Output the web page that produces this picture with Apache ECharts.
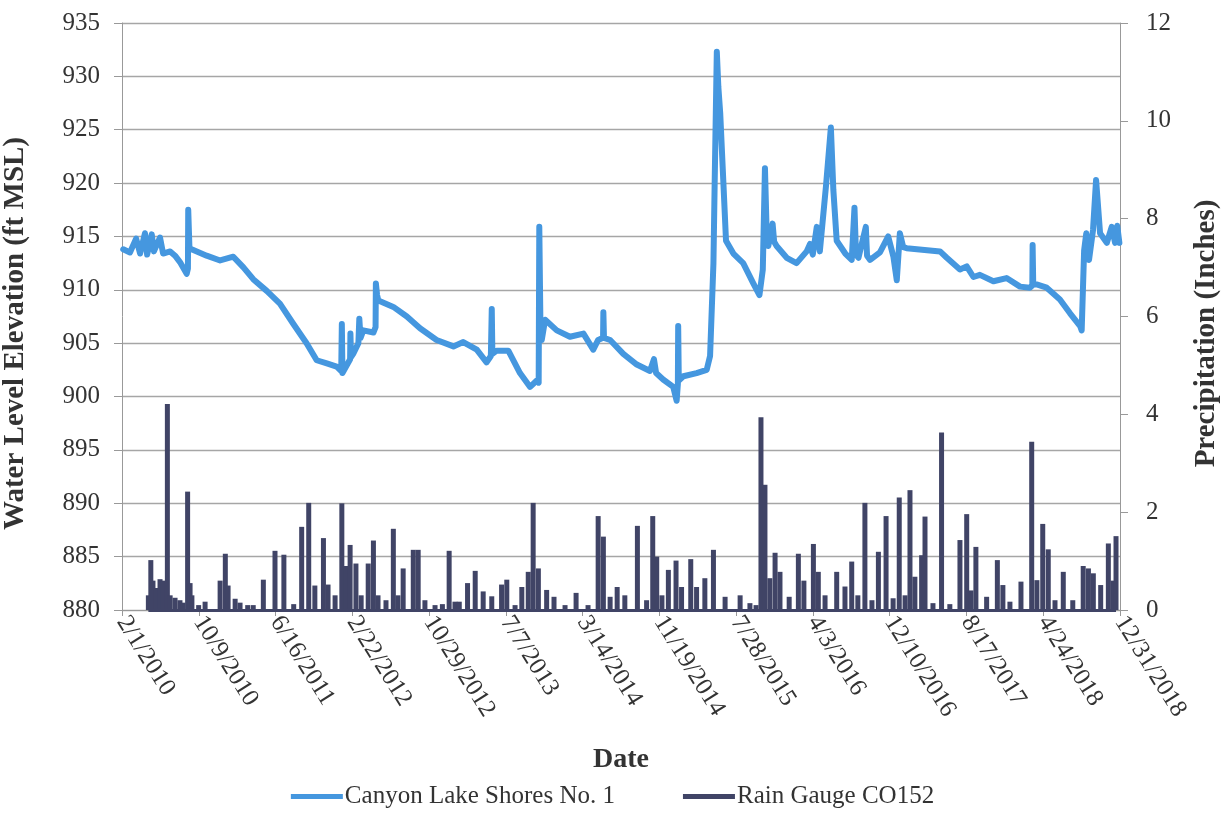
<!DOCTYPE html>
<html>
<head>
<meta charset="utf-8">
<script src="https://cdn.jsdelivr.net/npm/echarts@6/dist/echarts.min.js"></script>
<style>
html,body{margin:0;padding:0;background:#fff;}
#chart{width:1225px;height:814px;}
</style>
</head>
<body>
<div id="chart"></div>
<script>
// X values are days elapsed since 2/1/2010 (axis spans 2/1/2010 .. 12/31/2018)
const axisSpanDays = 3255;
const xTickLabels = ['2/1/2010','10/9/2010','6/16/2011','2/22/2012','10/29/2012','7/7/2013','3/14/2014',
  '11/19/2014','7/28/2015','4/3/2016','12/10/2016','8/17/2017','4/24/2018','12/31/2018'];
const leftTicks = [880, 935, 5];
const rightTicks = [0, 12, 2];

// Canyon Lake Shores No. 1 – water level (ft MSL)
const levelDays = [4,26,46,59,75,82,97,104,124,134,157,173,189,211,215,216,220,227,276,320,363,396,428,472,515,559,602,635,668,700,
  715,717,719,744,745,747,754,771,774,778,787,820,827,828,832,836,885,929,972,1026,1081,1113,1157,1189,1203,1206,1208,1222,1260,1298,
  1331,1353,1359,1361,1365,1369,1380,1418,1461,1505,1537,1553,1569,1570,1572,1592,1635,1679,1722,1735,1742,1765,1798,1809,1813,1814,1816,
  1831,1874,1907,1918,1929,1933,1940,1945,1951,1961,1970,1994,2026,2059,2079,2090,2097,2102,2108,2122,2127,2135,2168,2200,2233,2244,2253,
  2266,2276,2296,2312,2320,2331,2359,2380,2389,2394,2402,2426,2430,2440,2472,2499,2516,2527,2537,2548,2559,2668,2690,2733,2755,2777,2798,
  2842,2885,2929,2961,2969,2970,2972,2983,3016,3059,3092,3125,3130,3138,3145,3154,3167,3177,3190,3212,3228,3239,3246,3253];
const levelValues = [913.8,913.5,914.8,913.4,915.3,913.3,915.2,913.6,914.9,913.4,913.6,913.2,912.6,911.5,912.0,917.5,913.9,913.8,913.2,912.75,
  913.1,912.1,911.0,909.9,908.7,906.8,905.0,903.4,903.1,902.8,
  902.4,906.8,902.2,903.5,905.9,903.7,904.0,905.0,907.3,905.5,906.2,906.0,906.5,910.6,909.5,909.0,908.4,907.5,906.4,905.3,904.7,905.1,904.4,903.2,903.8,908.2,904.0,904.3,904.3,902.2,
  900.9,901.5,901.3,915.9,906.0,905.3,907.2,906.2,905.6,905.9,904.4,905.3,905.5,907.9,905.5,905.3,904.0,903.0,902.4,903.5,902.2,901.6,900.9,899.6,901.2,906.6,901.5,
  901.9,902.2,902.5,903.8,912.5,920.0,932.3,929.0,926.6,920.3,914.6,913.4,912.5,910.6,909.5,911.9,921.4,916.0,914.1,916.2,914.5,914.1,913.0,912.5,913.6,914.3,913.3,
  915.9,913.6,919.7,925.2,919.4,914.6,913.4,912.8,917.7,913.3,913.0,915.9,913.2,912.8,913.5,915.0,913.1,910.9,915.3,914.0,913.9,913.6,913.0,911.9,912.2,911.2,911.4,
  910.8,911.1,910.3,910.2,910.4,914.2,910.5,910.5,910.2,909.1,907.8,906.6,906.2,913.7,915.3,912.8,915.6,920.3,915.3,914.4,915.9,914.4,916.0,914.4];

// Rain Gauge CO152 – precipitation (inches)
const rainDays = [86,94,101,111,124,134,148,157,173,189,199,214,222,228,250,271,320,337,346,369,385,410,428,461,499,528,560,586,609,629,657,672,695,
  717,731,744,763,780,803,820,835,861,885,900,917,950,966,988,1021,1045,1067,1086,1100,1127,1152,1178,1206,1238,1255,1282,1304,1325,1341,1358,
  1385,1409,1445,1481,1520,1553,1570,1592,1615,1640,1681,1711,1731,1744,1761,1782,1807,1825,1855,1874,1901,1929,1967,2016,2048,2068,2084,
  2097,2113,2130,2146,2176,2206,2224,2255,2271,2293,2331,2358,2380,2400,2423,2446,2467,2492,2515,2535,2554,2570,2586,2608,2619,2645,2673,
  2700,2733,2755,2769,2785,2820,2855,2873,2896,2932,2967,2984,3003,3021,3043,3070,3101,3135,3152,3168,3192,3217,3232,3242];
const rainValues = [0.3,1.02,0.6,0.45,0.63,0.6,4.21,0.3,0.25,0.2,0.15,2.42,0.55,0.3,0.1,0.17,0.6,1.15,0.5,0.23,0.15,0.1,0.1,0.62,1.21,1.13,0.12,1.7,2.19,0.5,1.47,0.52,0.3,
  2.18,0.9,1.33,0.95,0.3,0.95,1.42,0.3,0.2,1.66,0.3,0.85,1.23,1.23,0.2,0.1,0.12,1.21,0.17,0.17,0.55,0.8,0.38,0.28,0.52,0.62,0.1,0.47,0.78,2.19,0.85,
  0.41,0.27,0.1,0.35,0.1,1.92,1.5,0.27,0.47,0.3,1.72,0.2,1.92,1.09,0.3,0.82,1.01,0.47,1.04,0.47,0.65,1.23,0.27,0.3,0.14,0.1,3.94,
  2.56,0.65,1.17,0.78,0.27,1.15,0.6,1.35,0.78,0.3,0.78,0.48,0.99,0.3,2.19,0.2,1.19,1.92,0.24,2.3,0.3,2.45,0.68,1.12,1.91,0.14,3.63,
  0.12,1.43,1.96,0.4,1.29,0.27,1.02,0.51,0.17,0.58,3.44,0.61,1.76,1.24,0.2,0.78,0.2,0.9,0.85,0.75,0.51,1.36,0.6,1.51];

const levelData = levelDays.map((d, i) => [d, levelValues[i]]);
const rainData = rainDays.map((d, i) => [d, rainValues[i]]);
const xInterval = axisSpanDays / (xTickLabels.length - 1);

const FONT = '"Liberation Serif", "Times New Roman", serif';
const TXT = '#333333';
const BLUE = '#4597df';
const NAVY = '#404466';
const chart = echarts.init(document.getElementById('chart'), null, {renderer: 'canvas'});
chart.setOption({
  backgroundColor: '#ffffff',
  animation: false,
  textStyle: {fontFamily: FONT, color: TXT},
  grid: {left: 122, right: 105, top: 23, bottom: 204, containLabel: false, outerBoundsMode: 'none'},
  legend: {
    bottom: 0, left: 'center', icon: 'rect', itemWidth: 52, itemHeight: 5, itemGap: 68,
    textStyle: {fontFamily: FONT, fontSize: 25, color: TXT, padding: [0, 0, 0, -3]},
    data: ['Canyon Lake Shores No. 1', 'Rain Gauge CO152']
  },
  xAxis: {
    type: 'value', min: 0, max: axisSpanDays, interval: xInterval,
    name: 'Date', nameLocation: 'middle', nameGap: 136,
    nameTextStyle: {fontFamily: FONT, fontSize: 28, fontWeight: 'bold', color: TXT},
    axisLine: {show: true, lineStyle: {color: '#999', width: 1}},
    axisTick: {show: true, length: 6, lineStyle: {color: '#999'}},
    splitLine: {show: false},
    axisLabel: {
      rotate: -58, fontSize: 25, fontFamily: FONT, color: TXT, margin: 8,
      formatter: v => xTickLabels[Math.round(v / xInterval)] || ''
    }
  },
  yAxis: [{
    type: 'value', min: leftTicks[0], max: leftTicks[1], interval: leftTicks[2], position: 'left',
    name: 'Water Level Elevation (ft MSL)', nameLocation: 'middle', nameGap: 92, nameRotate: 90,
    nameTextStyle: {fontFamily: FONT, fontSize: 29, fontWeight: 'bold', color: TXT, padding: [0, 34, 0, 0]},
    axisLine: {show: true, lineStyle: {color: '#999', width: 1}},
    axisTick: {show: true, length: 8, lineStyle: {color: '#999'}},
    splitLine: {show: true, lineStyle: {color: '#a6a6a6', width: 1.3}},
    axisLabel: {fontSize: 25, fontFamily: FONT, color: TXT, margin: 22}
  }, {
    type: 'value', min: rightTicks[0], max: rightTicks[1], interval: rightTicks[2], position: 'right',
    name: 'Precipitation (Inches)', nameLocation: 'middle', nameGap: 72, nameRotate: 90,
    nameTextStyle: {fontFamily: FONT, fontSize: 29, fontWeight: 'bold', color: TXT, padding: [0, 34, 0, 0]},
    axisLine: {show: true, lineStyle: {color: '#999', width: 1}},
    axisTick: {show: true, length: 8, lineStyle: {color: '#999'}},
    splitLine: {show: false},
    axisLabel: {fontSize: 25, fontFamily: FONT, color: TXT, margin: 26}
  }],
  series: [{
    name: 'Canyon Lake Shores No. 1', type: 'line', yAxisIndex: 0, data: levelData,
    showSymbol: false, symbol: 'none', smooth: false,
    lineStyle: {color: BLUE, width: 6, join: 'round', cap: 'round'}, itemStyle: {color: BLUE}, z: 3
  }, {
    name: 'Rain Gauge CO152', type: 'bar', yAxisIndex: 1, data: rainData,
    barWidth: 5, itemStyle: {color: NAVY}, z: 2,
    markLine: {
      silent: true, symbol: 'none', label: {show: false}, z: 5,
      lineStyle: {color: NAVY, width: 3, type: 'solid'},
      data: [[{coord: [rainDays[0], 0]}, {coord: [rainDays[rainDays.length - 1], 0]}]]
    }
  }]
});
</script>
</body>
</html>
